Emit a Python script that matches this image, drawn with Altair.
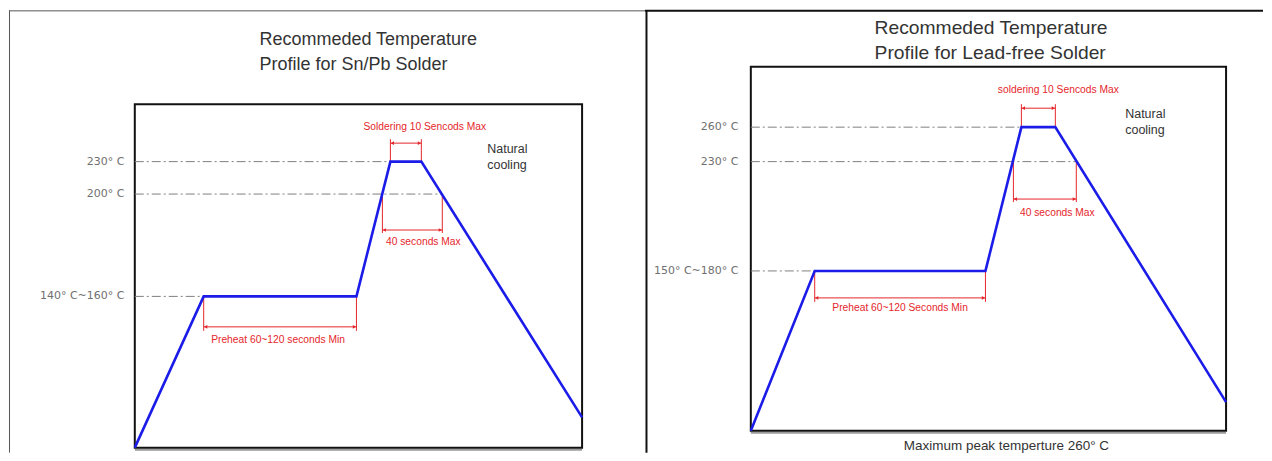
import altair as alt
import pandas as pd

# ---------------- data ----------------
# Sn/Pb solder profile: schematic time units vs temperature (°C)
snpb_time = [0, 69, 222, 256, 287, 448]
snpb_temp = [25, 150, 150, 230, 230, 50]
snpb_ref_temp = [230, 200, 150]
snpb_ref_label = ["230° C", "200° C", "140° C~160° C"]
snpb_ref_until = [256, 308, 69]
snpb_solder_window = [256, 287]
snpb_liquidus_window = [248, 308]
snpb_preheat_window = [69, 222]
snpb_title = ["Recommeded Temperature", "Profile for Sn/Pb Solder"]
snpb_texts = ["Soldering 10 Sencods Max", "40 seconds Max", "Preheat 60~120 seconds Min"]

# Lead-free solder profile
lf_time = [0, 64, 235, 271, 305, 476]
lf_temp = [25, 165, 165, 260, 260, 50]
lf_ref_temp = [260, 230, 165]
lf_ref_label = ["260° C", "230° C", "150° C~180° C"]
lf_ref_until = [271, 326, 64]
lf_solder_window = [271, 305]
lf_liquidus_window = [263, 326]
lf_preheat_window = [64, 235]
lf_title = ["Recommeded Temperature", "Profile for Lead-free Solder"]
lf_texts = ["soldering 10 Sencods Max", "40 seconds Max", "Preheat 60~120 Seconds Min"]
lf_note = "Maximum peak temperture 260°  C"

cooling_text = ["Natural", "cooling"]

# ---------------- layout / style ----------------
RED = "#e5262b"
BLUE = "#1c1ce8"
GREY = "#808080"
H = 445
SANS = "Liberation Sans, Arial"

LEFT = dict(width=637, xrange=[126, 574], yrange=[440, 288.5, 186, 153.5, 96], ytop=280,
            label_dx=-10.5, solder=(131, 135, 119, 19), liquidus=(225, 222, 234, 11),
            preheat=(323, 319, 332, -2), cooling=(479, 144.5), title=(251, 36.5, 18),
            top_color="#555555", top_w=1, side_x=0.5, side_color="#555555", side_w=1)
RIGHT = dict(width=619, xrange=[106, 582], yrange=[423, 263, 153.5, 119, 58.5], ytop=315,
             label_dx=-12.5, solder=(96, 100, 82, 20), liquidus=(194, 191, 205, 12.5),
             preheat=(294, 290, 300, 0), cooling=(481, 109.5), title=(230, 25.5, 19.3),
             top_color="#111111", top_w=2, side_x=1.5, side_color="#111111", side_w=2,
             note=(362, 442))


def build(time, temp, ref_temp, ref_label, ref_until, windows, texts, title, P, note=None):
    xs = alt.Scale(domain=[0, time[-1]], range=P["xrange"], nice=False, zero=False)
    ydom = [temp[0]] + sorted(ref_temp) + [P["ytop"]]
    ys = alt.Scale(domain=ydom, range=P["yrange"], nice=False, zero=False)

    def X(f):
        return alt.X(f, type="quantitative", scale=xs, axis=None)

    def Y(f):
        return alt.Y(f, type="quantitative", scale=ys, axis=None)

    one = pd.DataFrame({"a": [1]})
    layers = []

    # outer frame lines (decorative)
    layers.append(alt.Chart(one).mark_rule(color=P["top_color"], strokeWidth=P["top_w"]).encode(
        x=alt.value(0), x2=alt.value(P["width"]), y=alt.value(2.5)))
    layers.append(alt.Chart(one).mark_rule(color=P["side_color"], strokeWidth=P["side_w"]).encode(
        x=alt.value(P["side_x"]), y=alt.value(2), y2=alt.value(H)))

    # plot box
    box = pd.DataFrame({"t0": [0], "t1": [time[-1]], "y0": [temp[0]], "y1": [P["ytop"]]})
    layers.append(alt.Chart(box).mark_rule(color="#9a9a9a", strokeWidth=2, yOffset=2).encode(
        x=X("t0"), x2=alt.X2("t1"), y=Y("y0")))
    layers.append(alt.Chart(box).mark_rect(fillOpacity=0, stroke="#111111", strokeWidth=2).encode(
        x=X("t0"), x2=alt.X2("t1"), y=Y("y0"), y2=alt.Y2("y1")))

    # dash-dot reference lines
    ref = pd.DataFrame({"t0": [0] * len(ref_temp), "t1": ref_until, "temp": ref_temp, "label": ref_label})
    layers.append(alt.Chart(ref).mark_rule(color=GREY, strokeWidth=1, strokeDash=[9, 3, 2, 3]).encode(
        x=X("t0"), x2=alt.X2("t1"), y=Y("temp")))
    layers.append(alt.Chart(ref).mark_text(align="right", baseline="middle", dx=P["label_dx"],
                                           font="DejaVu Sans", fontSize=11, color="#707070").encode(
        x=X("t0"), y=Y("temp"), text="label:N"))

    # red dimension annotations
    bases = [temp[3], ref_temp[1], temp[1]]
    specs = [P["solder"], P["liquidus"], P["preheat"]]
    for win, base, spec, txt in zip(windows, bases, specs, texts):
        tick_end, arrow_y, text_y, dx = spec
        ticks = pd.DataFrame({"t": win, "base": [base, base]})
        layers.append(alt.Chart(ticks).mark_rule(color=RED, strokeWidth=1).encode(
            x=X("t"), y=Y("base"), y2=alt.value(tick_end)))
        span = pd.DataFrame({"t0": [win[0]], "t1": [win[1]]})
        layers.append(alt.Chart(span).mark_rule(color=RED, strokeWidth=1).encode(
            x=X("t0"), x2=alt.X2("t1"), y=alt.value(arrow_y)))
        layers.append(alt.Chart(span).mark_point(shape="triangle-left", filled=True, size=14,
                                                 opacity=1, color=RED, xOffset=2).encode(
            x=X("t0"), y=alt.value(arrow_y)))
        layers.append(alt.Chart(span).mark_point(shape="triangle-right", filled=True, size=14,
                                                 opacity=1, color=RED, xOffset=-2).encode(
            x=X("t1"), y=alt.value(arrow_y)))
        lab = pd.DataFrame({"t": [(win[0] + win[1]) / 2], "label": [txt]})
        layers.append(alt.Chart(lab).mark_text(color=RED, font=SANS, fontSize=10.3, dx=dx,
                                               baseline="middle").encode(
            x=X("t"), y=alt.value(text_y), text="label:N"))

    # temperature profile
    prof = pd.DataFrame({"time": time, "temp": temp})
    layers.append(alt.Chart(prof).mark_line(color=BLUE, strokeWidth=2.6).encode(
        x=X("time"), y=Y("temp")))

    # texts
    cx, cy = P["cooling"]
    layers.append(alt.Chart(one).mark_text(text=cooling_text, align="left", baseline="alphabetic",
                                           lineHeight=16, font=SANS, fontSize=12.5, color="#333333").encode(
        x=alt.value(cx), y=alt.value(cy)))
    tx, ty, ts = P["title"]
    layers.append(alt.Chart(one).mark_text(text=title, align="left", baseline="alphabetic",
                                           lineHeight=25, font=SANS, fontSize=ts, color="#333333").encode(
        x=alt.value(tx), y=alt.value(ty)))
    if note is not None:
        nx, ny = P["note"]
        layers.append(alt.Chart(one).mark_text(text=note, align="center", baseline="alphabetic",
                                               font=SANS, fontSize=13.5, color="#333333").encode(
            x=alt.value(nx), y=alt.value(ny)))

    return alt.layer(*layers).properties(width=P["width"], height=H)


left = build(snpb_time, snpb_temp, snpb_ref_temp, snpb_ref_label, snpb_ref_until,
             [snpb_solder_window, snpb_liquidus_window, snpb_preheat_window],
             snpb_texts, snpb_title, LEFT)
right = build(lf_time, lf_temp, lf_ref_temp, lf_ref_label, lf_ref_until,
              [lf_solder_window, lf_liquidus_window, lf_preheat_window],
              lf_texts, lf_title, RIGHT, note=lf_note)

chart = alt.hconcat(left, right, spacing=0, bounds="flush").properties(
    padding=0, background="white"
).configure_view(strokeOpacity=0)

chart.save("out.html", embed_options={"renderer": "svg", "actions": False})
